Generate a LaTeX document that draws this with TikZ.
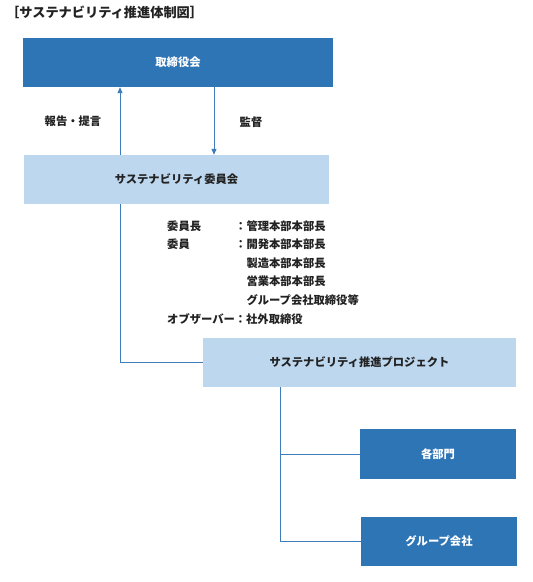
\documentclass[tikz,border=0pt]{standalone}
\usepackage{fontspec}
\setmainfont{Noto Sans CJK JP}
\usetikzlibrary{arrows.meta}
\definecolor{darkbox}{HTML}{2E75B6}
\definecolor{lightbox}{HTML}{BDD7EE}
\definecolor{linecol}{HTML}{3F7CBA}
\definecolor{txt}{HTML}{222222}
\tikzset{
  bodyfont/.style={font=\fontsize{11.3}{13}\selectfont\bfseries},
  dbox/.style={fill=darkbox, draw=none, text=white, bodyfont, inner sep=0pt},
  lbox/.style={fill=lightbox, draw=none, text=txt, bodyfont, inner sep=0pt},
  lbl/.style={text=txt, bodyfont, inner sep=0pt, anchor=west},
  conn/.style={draw=linecol, line width=1pt},
  arr/.style={conn, -{Triangle[width=5pt,length=6pt]}}
}
\begin{document}
\begin{tikzpicture}[x=1pt,y=-1pt]
\useasboundingbox[fill=white] (0,0) rectangle (533,582);
\node[text=txt, font=\fontsize{13.2}{15}\selectfont\bfseries, inner sep=0pt, anchor=west] (title) at (6,12) {［サステナビリティ推進体制図］};

\node[dbox, minimum width=310pt, minimum height=49pt] (board) at (178,62.5) {取締役会};
\node[lbox, minimum width=305pt, minimum height=49pt] (comm) at (176.5,179.5) {サステナビリティ委員会};
\node[lbox, minimum width=313pt, minimum height=49pt] (proj) at (359.5,362.5) {サステナビリティ推進プロジェクト};
\node[dbox, minimum width=156pt, minimum height=50pt] (dept) at (438,454) {各部門};
\node[dbox, minimum width=156pt, minimum height=49pt] (grp) at (439,541.5) {グループ会社};

\coordinate (ux) at (120,0);
\coordinate (dx) at (214,0);
\coordinate (px) at (280,0);
\draw[arr] (comm.north -| ux) -- (board.south -| ux);
\draw[arr] (board.south -| dx) -- (comm.north -| dx);
\node[lbl, anchor=center] (report) at (73,121) {報告・提言};
\node[lbl, anchor=center] (kantoku) at (251,122) {監督};

\draw[conn] (comm.south -| ux) |- (proj.west);
\draw[conn] (proj.south -| px) |- (dept.west);
\draw[conn] (proj.south -| px) |- (grp.west);

\node[lbl] (m1) at (167,226) {委員長};
\node[lbl] (m1b) at (235,226) {：管理本部本部長};
\node[lbl] (m2) at (167,244) {委員};
\node[lbl] (m2b) at (235,244) {：開発本部本部長};
\node[lbl] (m3) at (246.3,263) {製造本部本部長};
\node[lbl] (m4) at (246.3,281) {営業本部本部長};
\node[lbl] (m5) at (246.3,300) {グループ会社取締役等};
\node[lbl] (m6) at (167,319) {オブザーバー：社外取締役};
\end{tikzpicture}
\end{document}
